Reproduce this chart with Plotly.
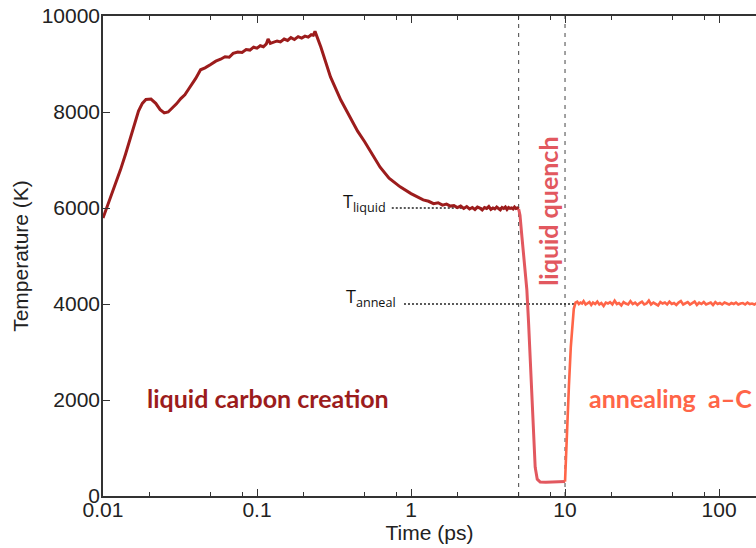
import plotly.graph_objects as go

# ---------------- data ----------------
# liquid carbon creation segment (t in ps, T in K)
t_create = [0.0100, 0.0110, 0.0120, 0.0130, 0.0140, 0.0150, 0.0160, 0.0170, 0.0180, 0.0190,
            0.0205, 0.0220, 0.0235, 0.0250, 0.0265, 0.0280, 0.0300, 0.0320, 0.0340, 0.0360,
            0.0380, 0.0400, 0.0430, 0.0460, 0.0500, 0.0540, 0.0580, 0.0620, 0.0660, 0.0700,
            0.0750, 0.0800, 0.0850, 0.0900, 0.0950, 0.1000, 0.1050, 0.1100, 0.1150, 0.1180,
            0.1220, 0.1280, 0.1350, 0.1420, 0.1500, 0.1580, 0.1660, 0.1750, 0.1850, 0.1950,
            0.2050, 0.2150, 0.2250, 0.2320, 0.2380,
            0.2600, 0.3000, 0.3500, 0.4000, 0.4500, 0.5000, 0.5500, 0.6300, 0.7200, 0.8500,
            1.0000, 1.1000, 1.2000, 1.3000, 1.4000, 1.5000, 1.6000, 1.7000, 1.8000, 1.9000,
            2.0000, 2.1000, 2.2000, 2.3000, 2.4000, 2.5000, 2.6000, 2.7000, 2.8000, 2.9000,
            3.0000, 3.1000, 3.2000, 3.3000, 3.4000, 3.5000, 3.6000, 3.7000, 3.8000, 3.9000,
            4.0000, 4.1000, 4.2000, 4.3000, 4.4000, 4.5000, 4.6000, 4.7000, 4.8000, 4.9000,
            5.0000]
T_create = [5790, 6150, 6480, 6800, 7120, 7450, 7780, 8020, 8180, 8260,
            8270, 8180, 8050, 7980, 8000, 8070, 8170, 8280, 8360, 8480,
            8580, 8700, 8880, 8920, 8990, 9060, 9100, 9150, 9140, 9220,
            9250, 9240, 9300, 9290, 9350, 9330, 9380, 9360, 9420, 9520,
            9430, 9450, 9480, 9460, 9520, 9490, 9550, 9510, 9570, 9540,
            9580, 9560, 9610, 9600, 9680,
            9350, 8730, 8250, 7900, 7600, 7380, 7150, 6850, 6620, 6440,
            6300, 6240, 6170, 6140, 6090, 6110, 6060, 6080, 6040, 6050,
            6010, 6040, 5990, 6030, 5980, 6010, 5970, 6020, 6000, 5960,
            6010, 5990, 6030, 5970, 6000, 5980, 6020, 5990, 5960, 6010,
            5990, 6020, 5970, 6010, 5990, 6000, 5980, 6020, 5990, 6000,
            5980]

# liquid quench segment
t_quench = [5.00, 5.10, 5.25, 5.45, 5.65, 5.80, 5.95, 6.10, 6.25, 6.40,
            6.60, 6.90, 7.50, 8.50, 9.50, 10.00]
T_quench = [5980, 5850, 5400, 4900, 4300, 3600, 2800, 1900, 1100, 600,
            350, 290, 285, 290, 290, 300]

# annealing segment
t_anneal = [10.00, 10.10, 10.30, 10.60, 10.90, 11.10, 11.40, 11.70, 12.0, 12.3,
            12.6, 12.9, 13.2, 13.6, 14.0, 14.4, 14.8, 15.2, 15.7, 16.2,
            16.7, 17.2, 17.8, 18.4, 19.0, 19.6, 20.3, 21.0, 21.7, 22.4,
            23.2, 24.0, 24.8, 25.7, 26.6, 27.5, 28.5, 29.5, 30.5, 31.6,
            32.7, 33.8, 35.0, 36.2, 37.5, 38.8, 40.2, 41.6, 43.0, 44.5,
            46.0, 47.6, 49.3, 51.0, 52.8, 54.6, 56.5, 58.5, 60.5, 62.6,
            64.8, 67.1, 69.4, 71.8, 74.3, 76.9, 79.6, 82.4, 85.3, 88.3,
            91.4, 94.6, 97.9, 101.3, 104.8, 108.5, 112.3, 116.2, 120.3, 124.5,
            128.8, 133.3, 138.0, 142.8, 147.8, 153.0, 158.3, 163.9, 169.6, 175.5,
            181.6]
T_anneal = [300, 700, 1300, 2300, 3100, 3500, 3900, 4030, 4050, 4000,
            4030, 4010, 4060, 3990, 4020, 4040, 3980, 4030, 4000, 4050,
            3990, 4020, 3960, 4030, 4010, 4040, 3990, 4070, 4000, 4020,
            3970, 4040, 4010, 3990, 4060, 4000, 4030, 3980, 4020, 4050,
            3990, 4010, 4070, 3990, 4030, 4000, 3970, 4040, 4010, 4030,
            3990, 4050, 4000, 4020, 3980, 4030, 4060, 3990, 4010, 4040,
            3990, 4020, 4050, 3980, 4030, 4000, 4040, 3990, 4010, 4030,
            3980, 4040, 4000, 4020, 3990, 4030, 4010, 3990, 4020, 4000,
            4030, 3990, 4010, 4020, 3990, 4030, 4000, 4010, 3990, 4020,
            4000]

# reference guide lines
vline_times = [5, 10]
hline_liquid_t = [0.75, 5]
hline_liquid_T = [6000, 6000]
hline_anneal_t = [0.90, 11.6]
hline_anneal_T = [4000, 4000]

x_tickvals = [0.01, 0.1, 1, 10, 100]
x_ticktext = ["0.01", "0.1", "1", "10", "100"]
x_minor = [m * d for d in [0.01, 0.1, 1, 10, 100] for m in (2, 5, 8)]
y_tickvals = [0, 2000, 4000, 6000, 8000, 10000]
y_ticktext = ["0", "2000", "4000", "6000", "8000", "10000"]

C_DARK = "#9c1c1c"
C_QUENCH = "#e2585f"
C_ANNEAL = "#ff6548"

fig = go.Figure()

# vertical dotted lines
for vt in vline_times:
    fig.add_trace(go.Scatter(x=[vt, vt], y=[0, 10000], mode="lines",
                             line=dict(color="#444", width=1, dash="4px,5px"),
                             hoverinfo="skip", showlegend=False))
# horizontal dotted lines
fig.add_trace(go.Scatter(x=hline_liquid_t, y=hline_liquid_T, mode="lines",
                         line=dict(color="#222", width=1.3, dash="2px,2px"),
                         hoverinfo="skip", showlegend=False))
fig.add_trace(go.Scatter(x=hline_anneal_t, y=hline_anneal_T, mode="lines",
                         line=dict(color="#222", width=1.3, dash="2px,2px"),
                         hoverinfo="skip", showlegend=False))

fig.add_trace(go.Scatter(x=t_create, y=T_create, mode="lines",
                         line=dict(color=C_DARK, width=3), showlegend=False))
fig.add_trace(go.Scatter(x=t_quench, y=T_quench, mode="lines",
                         line=dict(color=C_QUENCH, width=3), showlegend=False))
fig.add_trace(go.Scatter(x=t_anneal, y=T_anneal, mode="lines",
                         line=dict(color=C_ANNEAL, width=2.6), showlegend=False))

tick_font = dict(family="Liberation Sans, Arial, sans-serif", size=21, color="#222")

fig.update_layout(
    width=756, height=548,
    margin=dict(l=103, r=0, t=16, b=52),
    paper_bgcolor="white", plot_bgcolor="white",
    xaxis=dict(type="log", range=[-2, 2.24], showgrid=False, zeroline=False,
               showline=True, linecolor="#333", linewidth=1.5, mirror="allticks",
               ticks="inside", ticklen=7, tickwidth=1.2, tickcolor="#333",
               tickvals=x_tickvals, ticktext=x_ticktext, tickfont=tick_font,
               ticklabelstandoff=-6,
               minor=dict(tickvals=x_minor, ticks="inside", ticklen=4,
                          tickwidth=1, tickcolor="#333", showgrid=False),
               title=dict(text="Time (ps)", font=tick_font, standoff=2)),
    yaxis=dict(range=[0, 10000], showgrid=False, zeroline=False,
               showline=True, linecolor="#333", linewidth=1.5,
               ticks="inside", ticklen=7, tickwidth=1.2, tickcolor="#333",
               tickvals=y_tickvals, ticktext=y_ticktext, tickfont=tick_font,
               ticklabelstandoff=-3,
               title=dict(text="Temperature (K)", font=tick_font, standoff=7)),
)

lbl_font = dict(family="Lato, sans-serif", size=25, weight="bold")
fig.add_annotation(xref="paper", yref="paper", x=0.2534, y=0.204,
                   xanchor="center", yanchor="middle",
                   text="liquid carbon creation", showarrow=False,
                   font=dict(**lbl_font, color=C_DARK))
fig.add_annotation(xref="paper", yref="paper", x=0.869, y=0.204,
                   xanchor="center", yanchor="middle",
                   text="annealing\u00a0 a\u2013C", showarrow=False,
                   font=dict(**lbl_font, color=C_ANNEAL))
fig.add_annotation(xref="paper", yref="paper", x=0.6815, y=0.592,
                   xanchor="center", yanchor="middle",
                   text="liquid quench", showarrow=False, textangle=-90,
                   font=dict(**lbl_font, color=C_QUENCH))

t_font = dict(family="Open Sans, sans-serif", size=18, color="#111")
fig.add_annotation(xref="paper", yref="paper", x=0.4364, y=0.612,
                   xanchor="right", yanchor="middle",
                   text="T<sub>liquid</sub>", showarrow=False, font=t_font)
fig.add_annotation(xref="paper", yref="paper", x=0.4518, y=0.414,
                   xanchor="right", yanchor="middle",
                   text="T<sub>anneal</sub>", showarrow=False, font=t_font)

fig.write_html("out.html")
